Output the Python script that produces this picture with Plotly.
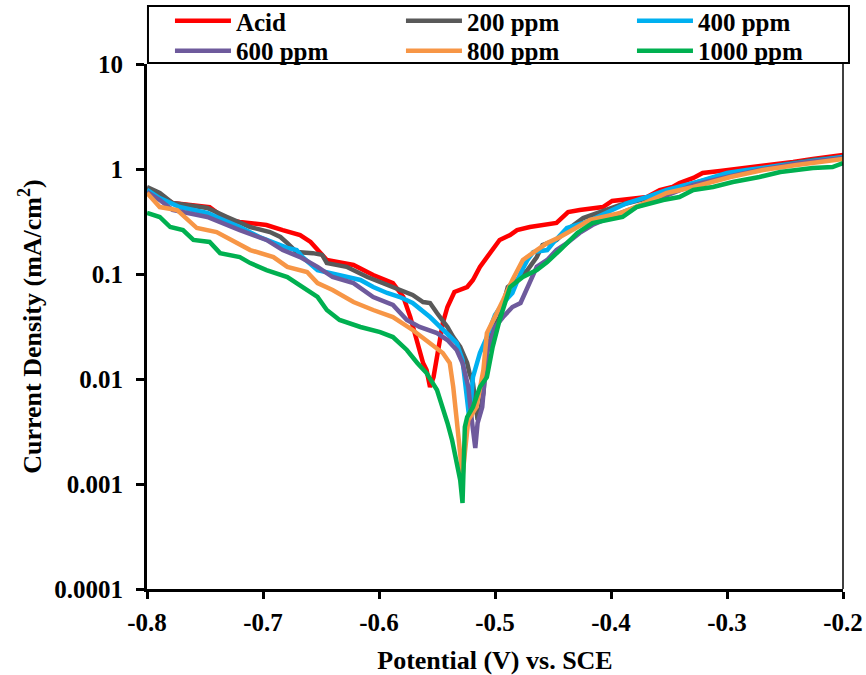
import plotly.graph_objects as go

# Potentials (V vs. SCE) and current densities (mA/cm2)
acid_v = [-0.800, -0.778, -0.746, -0.731, -0.720, -0.697, -0.683, -0.668, -0.659, -0.651, -0.645, -0.622, -0.605, -0.588, -0.579, -0.573, -0.567, -0.562, -0.559, -0.556, -0.553, -0.549, -0.545, -0.541, -0.535, -0.524, -0.519, -0.513, -0.504, -0.496, -0.487, -0.481, -0.470, -0.447, -0.437, -0.427, -0.407, -0.399, -0.369, -0.358, -0.347, -0.341, -0.329, -0.321, -0.306, -0.283, -0.266, -0.243, -0.226, -0.211, -0.200]
acid_i = [0.66, 0.474, 0.434, 0.327, 0.313, 0.293, 0.262, 0.235, 0.202, 0.162, 0.136, 0.122, 0.0978, 0.082, 0.0604, 0.0389, 0.0235, 0.0142, 0.0122, 0.0084, 0.0104, 0.0202, 0.0341, 0.0485, 0.0674, 0.0752, 0.0877, 0.117, 0.158, 0.211, 0.235, 0.262, 0.280, 0.306, 0.389, 0.407, 0.434, 0.496, 0.541, 0.631, 0.674, 0.735, 0.821, 0.916, 0.957, 1.02, 1.09, 1.166, 1.245, 1.30, 1.36]

ppm200_v = [-0.800, -0.789, -0.778, -0.748, -0.731, -0.711, -0.694, -0.685, -0.679, -0.671, -0.657, -0.649, -0.645, -0.628, -0.610, -0.599, -0.584, -0.571, -0.562, -0.556, -0.550, -0.541, -0.536, -0.530, -0.524, -0.522, -0.519, -0.516, -0.515, -0.513, -0.510, -0.507, -0.502, -0.496, -0.491, -0.489, -0.481, -0.472, -0.464, -0.459, -0.447, -0.438, -0.424, -0.416, -0.392, -0.375, -0.352, -0.329, -0.312, -0.283, -0.254, -0.226, -0.200]
ppm200_i = [0.674, 0.591, 0.474, 0.425, 0.349, 0.280, 0.251, 0.225, 0.197, 0.162, 0.158, 0.152, 0.127, 0.117, 0.0936, 0.0839, 0.0705, 0.0631, 0.0541, 0.0529, 0.0425, 0.0313, 0.0251, 0.0202, 0.0142, 0.0114, 0.00916, 0.00541, 0.00407, 0.00474, 0.00735, 0.0177, 0.0293, 0.0389, 0.066, 0.0752, 0.0877, 0.109, 0.145, 0.189, 0.211, 0.262, 0.341, 0.365, 0.454, 0.507, 0.591, 0.735, 0.821, 0.936, 1.09, 1.22, 1.30]

ppm400_v = [-0.800, -0.789, -0.772, -0.748, -0.734, -0.720, -0.703, -0.691, -0.679, -0.671, -0.666, -0.653, -0.636, -0.616, -0.605, -0.593, -0.582, -0.571, -0.556, -0.541, -0.533, -0.528, -0.526, -0.523, -0.522, -0.519, -0.513, -0.507, -0.500, -0.493, -0.485, -0.478, -0.472, -0.467, -0.455, -0.450, -0.438, -0.421, -0.398, -0.386, -0.369, -0.352, -0.329, -0.300, -0.283, -0.254, -0.226, -0.200]
ppm400_i = [0.631, 0.529, 0.434, 0.381, 0.327, 0.280, 0.225, 0.197, 0.177, 0.169, 0.145, 0.109, 0.0978, 0.0877, 0.0752, 0.066, 0.0604, 0.0529, 0.0389, 0.0274, 0.0220, 0.0152, 0.00978, 0.00541, 0.00407, 0.0104, 0.0177, 0.0251, 0.0407, 0.0529, 0.066, 0.102, 0.136, 0.162, 0.169, 0.197, 0.274, 0.313, 0.407, 0.474, 0.541, 0.631, 0.735, 0.916, 0.978, 1.09, 1.19, 1.30]

ppm600_v = [-0.800, -0.789, -0.778, -0.748, -0.720, -0.697, -0.683, -0.668, -0.653, -0.640, -0.622, -0.605, -0.588, -0.582, -0.576, -0.565, -0.550, -0.541, -0.533, -0.528, -0.523, -0.520, -0.517, -0.515, -0.511, -0.507, -0.500, -0.493, -0.485, -0.478, -0.472, -0.464, -0.455, -0.447, -0.438, -0.427, -0.416, -0.392, -0.369, -0.352, -0.329, -0.300, -0.272, -0.237, -0.200]
ppm600_i = [0.604, 0.507, 0.407, 0.349, 0.262, 0.211, 0.169, 0.145, 0.117, 0.0936, 0.082, 0.0604, 0.0507, 0.0425, 0.0365, 0.0313, 0.0274, 0.0235, 0.0189, 0.0142, 0.0084, 0.00407, 0.0022, 0.00381, 0.00541, 0.0177, 0.0313, 0.0389, 0.0485, 0.0529, 0.0752, 0.117, 0.136, 0.169, 0.197, 0.246, 0.293, 0.381, 0.474, 0.565, 0.705, 0.839, 0.978, 1.14, 1.27]

ppm800_v = [-0.800, -0.789, -0.774, -0.757, -0.740, -0.722, -0.711, -0.691, -0.679, -0.662, -0.653, -0.640, -0.622, -0.605, -0.588, -0.571, -0.556, -0.545, -0.539, -0.536, -0.533, -0.530, -0.528, -0.526, -0.523, -0.516, -0.510, -0.507, -0.500, -0.493, -0.485, -0.476, -0.464, -0.455, -0.444, -0.433, -0.418, -0.392, -0.375, -0.352, -0.329, -0.297, -0.269, -0.240, -0.200]
ppm800_i = [0.591, 0.434, 0.407, 0.274, 0.251, 0.197, 0.169, 0.145, 0.117, 0.1045, 0.082, 0.0705, 0.0541, 0.0454, 0.0389, 0.0293, 0.0220, 0.0177, 0.0142, 0.0084, 0.00407, 0.00197, 0.00117, 0.00197, 0.00407, 0.00541, 0.0122, 0.0274, 0.0389, 0.0565, 0.0877, 0.136, 0.169, 0.197, 0.225, 0.262, 0.327, 0.381, 0.454, 0.591, 0.674, 0.839, 0.978, 1.09, 1.245]

ppm1000_v = [-0.800, -0.789, -0.780, -0.769, -0.760, -0.746, -0.737, -0.720, -0.711, -0.697, -0.679, -0.666, -0.653, -0.645, -0.634, -0.616, -0.599, -0.588, -0.576, -0.567, -0.559, -0.550, -0.545, -0.541, -0.537, -0.535, -0.530, -0.528, -0.526, -0.524, -0.519, -0.513, -0.507, -0.502, -0.496, -0.487, -0.476, -0.464, -0.455, -0.444, -0.429, -0.416, -0.398, -0.390, -0.378, -0.355, -0.341, -0.329, -0.312, -0.295, -0.272, -0.254, -0.226, -0.209, -0.200]
ppm1000_i = [0.381, 0.349, 0.280, 0.262, 0.211, 0.202, 0.158, 0.145, 0.127, 0.109, 0.0936, 0.0752, 0.0604, 0.0454, 0.0365, 0.0313, 0.0280, 0.0251, 0.0189, 0.0142, 0.0114, 0.00785, 0.00541, 0.00381, 0.00262, 0.00197, 0.00109, 0.00066, 0.00349, 0.00434, 0.00541, 0.0084, 0.0104, 0.0202, 0.0365, 0.0752, 0.0936, 0.109, 0.130, 0.169, 0.246, 0.306, 0.341, 0.349, 0.434, 0.507, 0.541, 0.631, 0.674, 0.751, 0.839, 0.936, 1.02, 1.045, 1.14]

series_names = ["Acid", "200 ppm", "400 ppm", "600 ppm", "800 ppm", "1000 ppm"]
series_colors = ["#FF0000", "#595959", "#00B0F0", "#6E5A9C", "#F79646", "#00B050"]
series_legend_row = ["legend", "legend", "legend", "legend2", "legend2", "legend2"]

x_tick_vals = [-0.8, -0.7, -0.6, -0.5, -0.4, -0.3, -0.2]
x_tick_text = ["-0.8", "-0.7", "-0.6", "-0.5", "-0.4", "-0.3", "-0.2"]
y_tick_vals = [0.0001, 0.001, 0.01, 0.1, 1, 10]
y_tick_text = ["0.0001", "0.001", "0.01", "0.1", "1", "10"]

xs = [acid_v, ppm200_v, ppm400_v, ppm600_v, ppm800_v, ppm1000_v]
ys = [acid_i, ppm200_i, ppm400_i, ppm600_i, ppm800_i, ppm1000_i]

FONT = "Liberation Serif, Times New Roman, serif"

fig = go.Figure()
for name, color, row, xv, yv in zip(series_names, series_colors, series_legend_row, xs, ys):
    fig.add_trace(go.Scatter(x=xv, y=yv, mode="lines", name=name, legend=row,
                             line=dict(color=color, width=4.5)))

legend_common = dict(
    orientation="h", xref="paper", yref="paper",
    x=0.033, xanchor="left", yanchor="middle",
    borderwidth=0, bgcolor="rgba(0,0,0,0)",
    font=dict(family=FONT, size=25, color="black", weight="bold"),
    entrywidth=160, entrywidthmode="pixels",
    tracegroupgap=0, itemwidth=56,
)

fig.update_layout(
    width=866, height=675,
    paper_bgcolor="white", plot_bgcolor="white",
    margin=dict(l=147, r=23, t=64, b=86, autoexpand=False),
    font=dict(family=FONT, size=25, color="black", weight="bold"),
    legend=dict(legend_common, y=1.0819),
    legend2=dict(legend_common, y=1.0248),
    xaxis=dict(
        range=[-0.8, -0.2], tickvals=x_tick_vals, ticktext=x_tick_text,
        tickfont=dict(family=FONT, size=25, color="black", weight="bold"),
        ticklabelstandoff=2,
        showline=True, linecolor="black", linewidth=3,
        ticks="outside", ticklen=7, tickwidth=3, tickcolor="black",
        showgrid=False, zeroline=False,
        title=dict(text="Potential (V) vs. SCE", standoff=20,
                   font=dict(family=FONT, size=26, color="black", weight="bold")),
    ),
    yaxis=dict(
        type="log", range=[-4, 1], tickvals=y_tick_vals, ticktext=y_tick_text,
        tickfont=dict(family=FONT, size=25, color="black", weight="bold"),
        ticklabelstandoff=8,
        showline=True, linecolor="black", linewidth=3,
        ticks="outside", ticklen=8, tickwidth=3, tickcolor="black",
        showgrid=False, zeroline=False,
        title=dict(text="Current Density (mA/cm<sup>2</sup>)", standoff=6,
                   font=dict(family=FONT, size=26, color="black", weight="bold")),
    ),
    shapes=[
        dict(type="line", xref="paper", yref="paper", x0=1, x1=1, y0=0, y1=1,
             line=dict(color="black", width=1.5)),
        dict(type="rect", xref="paper", yref="paper", x0=0.0014, x1=1.0086,
             y0=1.0019, y1=1.1105, line=dict(color="black", width=2),
             fillcolor="rgba(0,0,0,0)", layer="above"),
    ],
)

# Remove the default 8px page margin so the 866x675 figure fills the window.
fig.write_html("out.html", config={"displayModeBar": False},
               post_script="document.body.style.margin='0';")
